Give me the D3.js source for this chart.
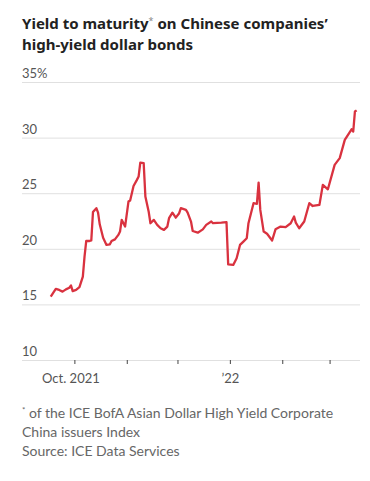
<!DOCTYPE html>
<html>
<head>
<meta charset="utf-8">
<style>
  body { margin: 0; background: #fff; }
  .title { font-family: "Noto Sans", sans-serif; font-weight: 700; font-size: 15px; fill: #222; }
  .tick text, .ylab, .xlab { font-family: Lato, sans-serif; font-size: 13px; fill: #555; }
  .note { font-family: Lato, sans-serif; font-size: 14px; fill: #666; }
  .grid line { stroke: #e0e0e0; stroke-width: 1; }
  .line { fill: none; stroke: #d9323f; stroke-width: 2.3; stroke-linejoin: round; }
</style>
</head>
<body>
<script src="https://d3js.org/d3.v7.min.js"></script>
<div id="chart"></div>
<script>
// yield to maturity, %
var dates = [
  "2021-09-17","2021-09-20","2021-09-22","2021-09-24","2021-09-26","2021-09-28","2021-09-29","2021-09-30",
  "2021-10-02","2021-10-04","2021-10-06","2021-10-07","2021-10-08","2021-10-10","2021-10-11","2021-10-12",
  "2021-10-14","2021-10-15","2021-10-16","2021-10-18","2021-10-20","2021-10-22","2021-10-23","2021-10-25",
  "2021-10-27","2021-10-28","2021-10-29","2021-10-31","2021-11-02","2021-11-03","2021-11-05","2021-11-07",
  "2021-11-08","2021-11-09","2021-11-11","2021-11-12","2021-11-14","2021-11-15","2021-11-17","2021-11-19",
  "2021-11-21","2021-11-23","2021-11-25","2021-11-26","2021-11-28","2021-11-30","2021-12-02","2021-12-03",
  "2021-12-06","2021-12-07","2021-12-09","2021-12-10","2021-12-13","2021-12-16","2021-12-18","2021-12-21",
  "2021-12-22","2021-12-27","2021-12-30","2021-12-31","2022-01-03","2022-01-05","2022-01-07","2022-01-09",
  "2022-01-11","2022-01-12","2022-01-15","2022-01-17","2022-01-18","2022-01-19","2022-01-21","2022-01-23",
  "2022-01-26","2022-01-28","2022-01-31","2022-02-03","2022-02-06","2022-02-08","2022-02-09","2022-02-11",
  "2022-02-14","2022-02-17","2022-02-19","2022-02-23","2022-02-25","2022-02-28","2022-03-04","2022-03-07",
  "2022-03-10","2022-03-14","2022-03-15","2022-03-16","2022-03-17"
];
var yields = [
  15.7,16.4,16.3,16.15,16.35,16.5,16.7,16.2,
  16.3,16.55,17.5,19.3,20.7,20.7,20.75,23.3,
  23.65,23.25,22.2,21.0,20.35,20.4,20.7,20.85,
  21.25,21.55,22.6,22.0,24.25,24.35,25.65,26.2,
  26.5,27.75,27.7,24.7,23.3,22.3,22.6,22.15,
  21.85,21.7,22.0,22.75,23.25,22.8,23.2,23.65,
  23.5,23.25,22.45,21.6,21.45,21.75,22.15,22.45,
  22.3,22.35,22.4,18.6,18.55,19.15,20.35,20.65,
  20.95,22.3,24.1,24.05,25.95,23.5,21.55,21.35,
  20.75,21.75,22.0,21.95,22.3,22.9,22.35,21.85,
  22.45,24.1,23.85,23.95,25.75,25.35,27.55,28.15,
  29.8,30.75,30.55,32.35,32.45
];
var yTicks = [10, 15, 20, 25, 30, 35];
var xTicks = ["2021-10-01","2021-11-01","2021-12-01","2022-01-01","2022-02-01","2022-03-01"];
var xTickLabels = {"2021-10-01": "Oct. 2021", "2022-01-01": "\u201922"};

var W = 370, H = 481;
var parse = d3.timeParse("%Y-%m-%d");
var data = dates.map(function(d, i) { return {date: parse(d), value: yields[i]}; });

var svg = d3.select("#chart").append("svg")
  .attr("width", W).attr("height", H);

// title
var title = svg.append("text").attr("class", "title").attr("x", 22).attr("y", 29);
title.append("tspan").text("Yield to maturity");
title.append("tspan").attr("font-size", 9).attr("font-weight", 400).attr("fill", "#888").attr("dy", -5).text("*");
title.append("tspan").attr("dy", 5).text(" on Chinese companies\u2019");
svg.append("text").attr("class", "title").attr("x", 22).attr("y", 50).text("high-yield dollar bonds");

var x = d3.scaleTime()
  .domain([parse("2021-08-31"), parse("2022-03-19")])
  .range([22, 360]);
var y = d3.scaleLinear().domain([10, 35]).range([360, 82]);

// gridlines
svg.append("g").attr("class", "grid")
  .selectAll("line").data(yTicks).enter().append("line")
  .attr("x1", 22).attr("x2", 360)
  .attr("y1", function(d) { return y(d) + 0.5; })
  .attr("y2", function(d) { return y(d) + 0.5; });

svg.selectAll(".ylab").data(yTicks).enter().append("text")
  .attr("class", "ylab")
  .attr("x", 22)
  .attr("y", function(d) { return y(d) - 4; })
  .text(function(d) { return d === 35 ? d + "%" : d; });

// x axis
var xAxis = d3.axisBottom(x)
  .tickValues(xTicks.map(parse))
  .tickSize(4)
  .tickFormat(function(d) { return xTickLabels[d3.timeFormat("%Y-%m-%d")(d)] || ""; });
var gx = svg.append("g").attr("transform", "translate(0,360)").call(xAxis);
gx.select(".domain").remove();
gx.selectAll(".tick line").attr("stroke", "#444");
gx.selectAll(".tick text").attr("dy", "1.25em")
  .attr("dx", function(d, i) { return i === 0 ? -4 : 0; });

var line = d3.line()
  .x(function(d) { return x(d.date); })
  .y(function(d) { return y(d.value); });

svg.append("path").datum(data).attr("class", "line").attr("d", line);

// notes
var notes = svg.append("g");
var n1 = notes.append("text").attr("class", "note").attr("x", 22).attr("y", 418);
n1.append("tspan").attr("font-size", 8).attr("dy", -5).text("*");
n1.append("tspan").attr("dy", 5).text(" of the ICE BofA Asian Dollar High Yield Corporate");
notes.append("text").attr("class", "note").attr("x", 22).attr("y", 437).text("China issuers Index");
notes.append("text").attr("class", "note").attr("x", 22).attr("y", 456).text("Source: ICE Data Services");
</script>
</body>
</html>
